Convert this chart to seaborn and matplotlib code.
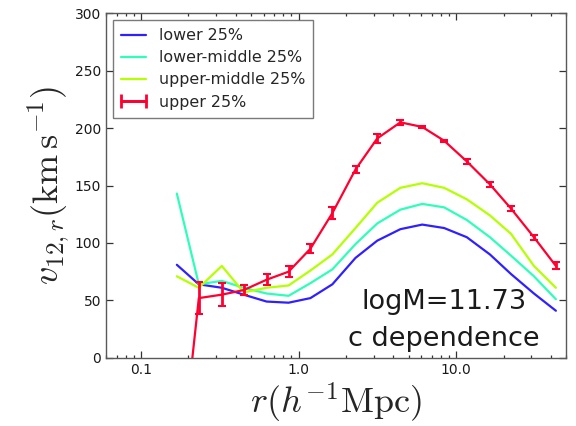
import matplotlib
matplotlib.use("Agg")
import matplotlib.pyplot as plt
import numpy as np
import pandas as pd
import seaborn as sns
from matplotlib.container import ErrorbarContainer
from matplotlib.legend_handler import HandlerErrorbar
from matplotlib.ticker import FixedLocator, FormatStrFormatter, LogLocator, NullFormatter

# separation bins (h^-1 Mpc)
r = [0.169, 0.233, 0.326, 0.449, 0.627, 0.865, 1.19, 1.64, 2.30, 3.16,
     4.43, 6.10, 8.40, 11.7, 16.4, 22.3, 31.2, 43.0]

v_lower = [81, 64, 61, 55, 49, 48, 52, 64, 87, 102,
           112, 116, 113, 105, 90, 73, 56, 41]
v_lower_mid = [143, 64, 67, 61, 56, 54, 65, 77, 99, 117,
               129, 134, 131, 120, 105, 89, 71, 51]
v_upper_mid = [71, 61, 80, 57, 61, 63, 76, 90, 113, 135,
               148, 152, 148, 138, 124, 108, 80, 61]
v_upper = [-125, 52, 55, 59, 68, 75, 95, 126, 164, 191,
           205, 201, 189, 171, 151, 130, 105, 80]
v_upper_err = [10, 14, 10, 4, 5, 5, 4, 5, 3, 4,
               2, 1, 1, 2, 2, 2, 2, 3]

labels = ["lower 25%", "lower-middle 25%", "upper-middle 25%", "upper 25%"]
colors = ["#3020ff", "#2effb8", "#b4ff00", "#ff0030"]

sns.set_style("white")
plt.rcParams["mathtext.fontset"] = "cm"
plt.rcParams["font.family"] = ["DejaVu Sans"]

fig = plt.figure(figsize=(5.76, 4.26), dpi=100)
ax = fig.add_axes([0.184, 0.160, 0.799, 0.809])

df = pd.DataFrame({"r": r, "lower": v_lower, "lower_mid": v_lower_mid,
                   "upper_mid": v_upper_mid})
for col, lab, c in zip(["lower", "lower_mid", "upper_mid"], labels[:3], colors[:3]):
    sns.lineplot(data=df, x="r", y=col, color=c, lw=1.6, label=lab, ax=ax)

ax.errorbar(r, v_upper, yerr=v_upper_err, color=colors[3], lw=1.6,
            elinewidth=2.0, capsize=3, capthick=1.5)
# legend proxy: old-style horizontal bar with end caps, kept off the visible range
ax.errorbar([1.0], [-1000], xerr=[0.1], color=colors[3], lw=2.0,
            elinewidth=2.0, capsize=5, capthick=2.0, label=labels[3])

ax.set_xscale("log")
ax.set_xlim(0.06, 50)
ax.set_ylim(0, 300)
ax.xaxis.set_major_locator(FixedLocator([0.1, 1.0, 10.0]))
ax.xaxis.set_major_formatter(FormatStrFormatter("%.1f"))
ax.xaxis.set_minor_locator(LogLocator(base=10, subs=np.arange(2, 10)))
ax.xaxis.set_minor_formatter(NullFormatter())
ax.set_yticks(np.arange(0, 301, 50))

ax.tick_params(which="both", direction="in", bottom=True, left=True,
               top=True, right=True, labelsize=10, labelcolor="0.1")
ax.tick_params(which="major", length=5, width=0.9, color="0.2")
ax.tick_params(which="minor", length=2.5, width=0.9, color="0.2")
for s in ax.spines.values():
    s.set_color("0.35")
    s.set_linewidth(1.0)

ax.set_xlabel(r"$r(h^{-1}\mathrm{Mpc})$", fontsize=26, labelpad=3)
ax.set_ylabel(r"$v_{12,r}(\mathrm{km\,s^{-1}})$", fontsize=26, labelpad=2)

ax.text(0.735, 0.108, "logM=11.73\nc dependence", transform=ax.transAxes,
        ha="center", va="center", fontsize=19.5, color="0.1", linespacing=1.55)

leg = ax.legend(loc="upper left", fontsize=11.4, frameon=True, fancybox=False,
                borderaxespad=0.45, borderpad=0.5, handlelength=1.6,
                labelspacing=0.45,
                handler_map={ErrorbarContainer: HandlerErrorbar(xerr_size=0.8)})
leg.get_frame().set_edgecolor("0.35")
leg.get_frame().set_linewidth(1.0)

fig.savefig("out.png", dpi=100)
